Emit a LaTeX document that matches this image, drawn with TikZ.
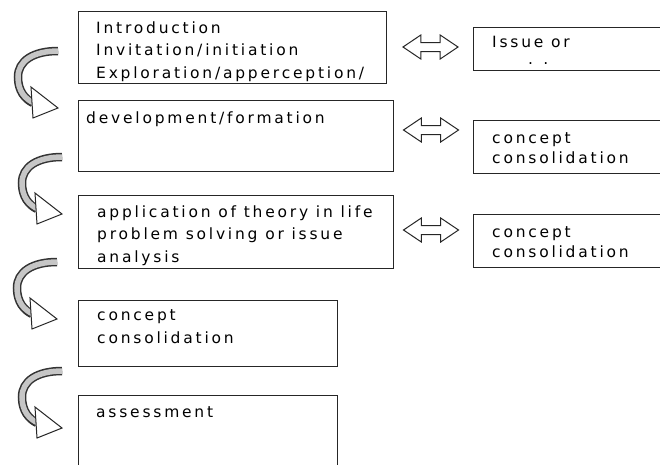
\documentclass[tikz,border=0pt]{standalone}
\usepackage{fontspec}
\setmainfont{DejaVu Sans}[LetterSpace=18]
\usetikzlibrary{shapes.arrows}
\begin{document}
\begin{tikzpicture}[x=1pt,y=-1pt,
  box/.style={draw=black!85, line width=1.4pt, anchor=north west, inner sep=0pt},
  txt/.style={anchor=base west, inner sep=0pt, font=\fontsize{15.5}{22.5}\selectfont, align=left, text=black},
  dbl/.style={double arrow, draw=black!85, line width=1pt, fill=white, minimum height=55pt,
    minimum width=23pt, inner sep=4pt, double arrow head extend=7.5pt, double arrow tip angle=68},
  curv/.pic={
    \draw[line width=8.5pt, black!80] (0,0) .. controls (-25,0) and (-40,10) .. (-40,26) .. controls (-40,40) and (-33,48) .. (-25,52);
    \draw[line width=5.5pt, gray!45] (0.5,0) .. controls (-25,0) and (-40,10) .. (-40,26) .. controls (-40,40) and (-33,48) .. (-24,52);
    \draw[black!85, line width=1pt, fill=white, line join=miter] (-27,36) -- (0,57) -- (-25,67) -- cycle;
  }]
\useasboundingbox (0,0) rectangle (660,464);

% left column boxes
\node[box, minimum width=308pt, minimum height=72pt] (b1) at (78,11) {};
\node[box, minimum width=315pt, minimum height=71pt] (b2) at (78,100) {};
\node[box, minimum width=315pt, minimum height=73pt] (b3) at (78,195) {};
\node[box, minimum width=259pt, minimum height=66pt] (b4) at (78,300) {};
\node[box, minimum width=259pt, minimum height=80pt] (b5) at (78,395) {};

% right column boxes
\node[box, minimum width=200pt, minimum height=43pt] (r1) at (473,27) {};
\node[box, minimum width=200pt, minimum height=53pt] (r2) at (473,120) {};
\node[box, minimum width=200pt, minimum height=53pt] (r3) at (473,214) {};

% texts (anchor = baseline of last line)
\node[txt] (t1) at (96,78) {Introduction\\Invitation/initiation\\Exploration/apperception/};
\node[txt] (t2) at (86,123) {development/formation};
\node[txt] (t3) at (97,262) {application of theory in life\\problem solving or issue\\analysis};
\node[txt] (t4) at (97,343) {concept\\consolidation};
\node[txt] (t5) at (96,417) {assessment};
\node[txt] (u1) at (492,64) {Issue or\\[-6pt]\hspace*{36pt}. .};
\node[txt, font=\fontsize{15.5}{20}\selectfont] (u2) at (492,163) {concept\\consolidation};
\node[txt, font=\fontsize{15.5}{20}\selectfont] (u3) at (492,257) {concept\\consolidation};

% double arrows
\node[dbl] (d1) at (430.5,47) {};
\node[dbl] (d2) at (431,130) {};
\node[dbl] (d3) at (431,230) {};

% curved arrows
\pic at (58,51) {curv};
\pic at (62,157) {curv};
\pic at (57,262) {curv};
\pic at (62,371) {curv};
\end{tikzpicture}
\end{document}
